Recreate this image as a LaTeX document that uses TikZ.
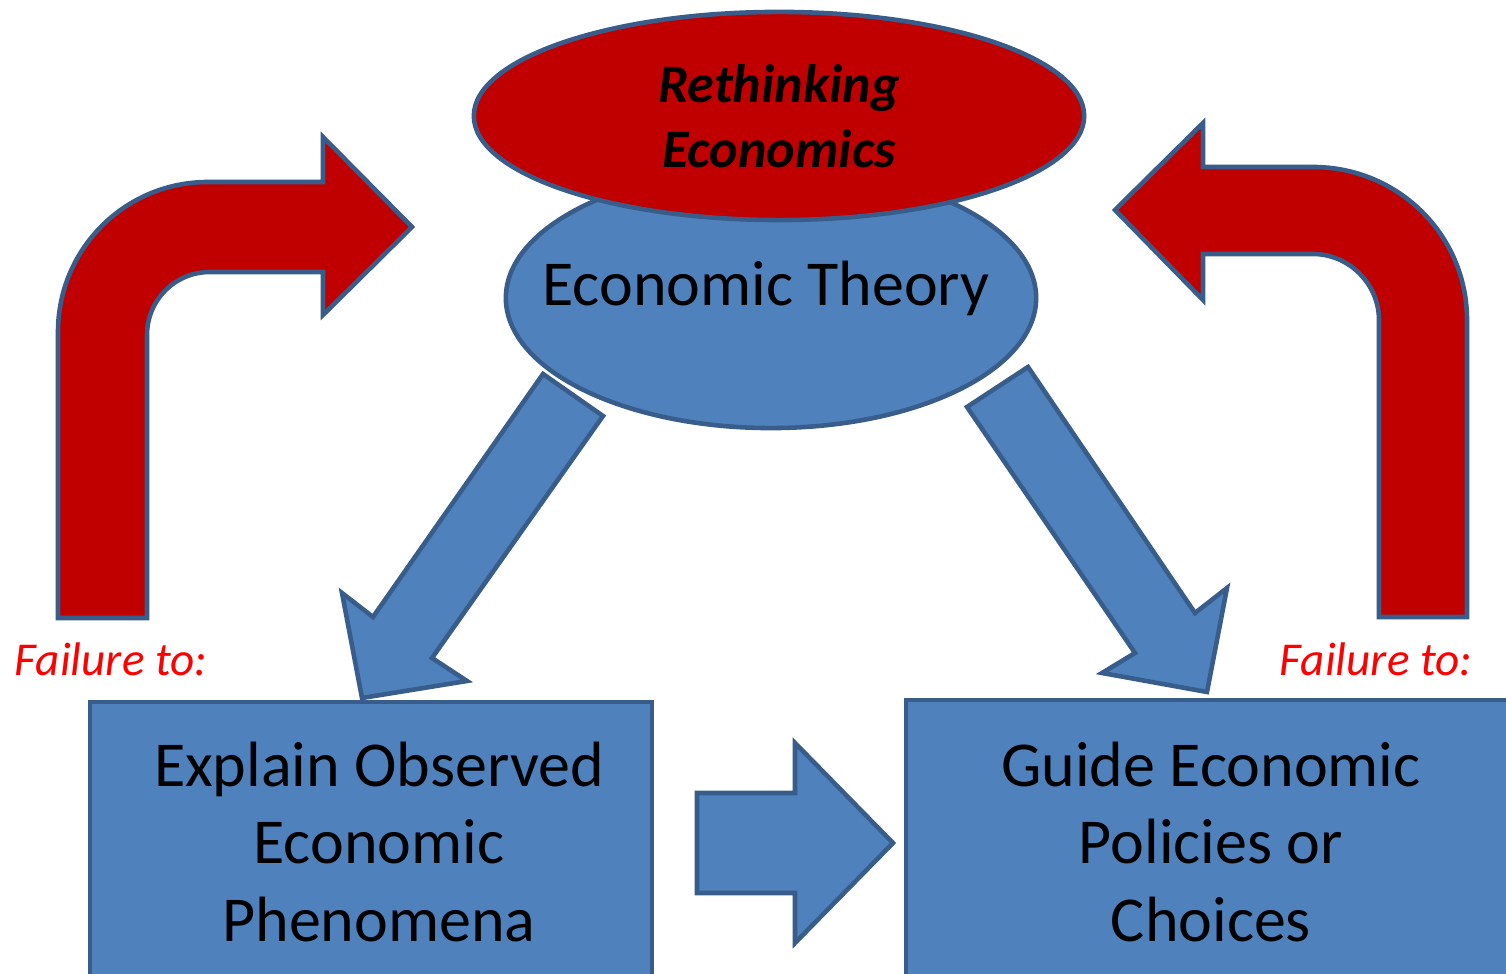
\documentclass[tikz,border=0pt]{standalone}
\usepackage{fontspec}
\setmainfont{Carlito}
\usetikzlibrary{shapes.geometric}

\definecolor{shapeblue}{HTML}{4F81BD}
\definecolor{edgeblue}{HTML}{385D8A}
\definecolor{loopred}{HTML}{C00000}

\begin{document}
\begin{tikzpicture}[x=0.01cm,y=-0.01cm,
    bluepart/.style={fill=shapeblue,draw=edgeblue,line width=1.3pt},
    redpart/.style={fill=loopred,draw=edgeblue,line width=1.3pt},
    bigtext/.style={font=\fontsize{18.2}{22}\selectfont,align=center},
    failtext/.style={font=\fontsize{13.4}{16}\selectfont\itshape,text=red}]

  \useasboundingbox (0,0) rectangle (1506,974);
  \clip (0,0) rectangle (1506,974);

  \node[bluepart,ellipse,minimum width=5.3cm,minimum height=2.6cm] at (771,298) (theory) {};
  \node[redpart,ellipse,minimum width=6.1cm,minimum height=2.08cm,
        font=\fontsize{15.4}{18.5}\selectfont\bfseries\itshape,align=center] at (779,116) (rethink)
        {Rethinking\\Economics};
  \node[bigtext] at (766,288) (theorytext) {Economic Theory};

  \draw[bluepart] (90,702) rectangle (652,1010);
  \draw[bluepart] (906,700) rectangle (1530,1010);
  \node[bigtext] at (379,842) (explain) {Explain Observed\\Economic\\Phenomena};
  \node[bigtext] at (1211,842) (guide) {Guide Economic\\Policies or\\Choices};

  \draw[bluepart] (543,374) -- (603,416) -- (432,658) -- (467,681) -- (362,698)
    -- (342,593) -- (373,617) -- cycle;
  \draw[bluepart] (1028,367) -- (967,407) -- (1135,653) -- (1102,673) -- (1207,692)
    -- (1227,588) -- (1195,613) -- cycle;
  \draw[bluepart] (697,793) -- (795,793) -- (795,743) -- (893,843) -- (795,943)
    -- (795,893) -- (697,893) -- cycle;

  \draw[redpart] (58,618) -- (58,332) .. controls (58,249) and (125,182) .. (208,182)
    -- (323,182) -- (323,137) -- (412,227) -- (323,315) -- (323,272) -- (210,272)
    .. controls (175,272) and (147,300) .. (147,335) -- (147,618) -- cycle;
  \draw[redpart] (1467,617) -- (1467,320) .. controls (1467,235) and (1398,167) .. (1313,167)
    -- (1203,167) -- (1203,123) -- (1115,210) -- (1203,300) -- (1203,254) -- (1313,254)
    .. controls (1349,254) and (1379,284) .. (1379,320) -- (1379,617) -- cycle;

  \node[failtext] at (111,659) (failleft) {Failure to:};
  \node[failtext] at (1376,659) (failright) {Failure to:};
\end{tikzpicture}
\end{document}
